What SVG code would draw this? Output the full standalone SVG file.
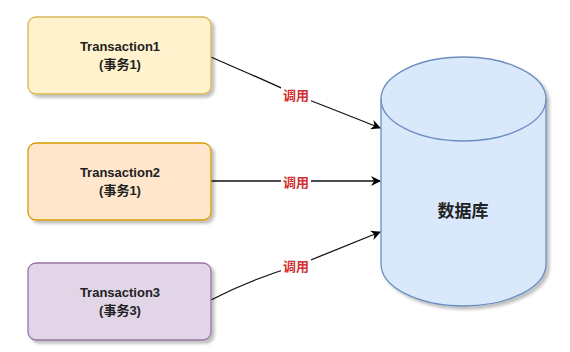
<svg xmlns="http://www.w3.org/2000/svg" width="570" height="352" viewBox="0 0 570 352">
<defs>
<filter id="sh" x="-10%" y="-10%" width="130%" height="130%"><feDropShadow dx="3" dy="3" stdDeviation="1.5" flood-color="#000" flood-opacity="0.25"/></filter>
<marker id="ah" viewBox="0 0 10 10" refX="9" refY="5" markerWidth="10" markerHeight="10" markerUnits="userSpaceOnUse" orient="auto"><path d="M0,0 L10,5 L0,10 L3,5 Z" fill="#000"/></marker>
</defs>
<style>
.t{font-family:"Liberation Sans","Noto Sans CJK SC",sans-serif;font-size:13px;font-weight:bold;fill:#222;text-anchor:middle}
.lb{font-family:"Noto Sans CJK SC",sans-serif;font-size:13px;font-weight:bold;fill:#d03030;text-anchor:middle}
.ed{fill:none;stroke:#111;stroke-width:1.3;marker-end:url(#ah)}
.bg{fill:#fff}
</style>
<rect width="570" height="352" fill="#fff"/>
<g id="edges">
<path class="ed" d="M211,57 C240,70 265,80 296,95 C330,108 355,118 380,128"/>
<path class="ed" d="M211,181 L380,181"/>
<path class="ed" d="M211,300 C240,285 265,275 296,266 C330,252 355,242 380,232"/>
<rect class="bg" x="281" y="86" width="30" height="18"/>
<rect class="bg" x="281" y="173" width="30" height="18"/>
<rect class="bg" x="281" y="257" width="30" height="18"/>
<text class="lb" x="296" y="100">调用</text>
<text class="lb" x="296" y="187">调用</text>
<text class="lb" x="296" y="271">调用</text>
</g>
<g id="t1">
<rect x="28" y="17" width="183" height="77" rx="8" fill="#fff2cc" stroke="#d6b656" stroke-width="1.3" filter="url(#sh)"/>
<text class="t" x="120" y="51">Transaction1</text>
<text class="t" x="120" y="69">(事务1)</text>
</g>
<g id="t2">
<rect x="28" y="143" width="183" height="77" rx="8" fill="#ffe6cc" stroke="#d79b00" stroke-width="1.3" filter="url(#sh)"/>
<text class="t" x="120" y="177">Transaction2</text>
<text class="t" x="120" y="195">(事务1)</text>
</g>
<g id="t3">
<rect x="28" y="263" width="183" height="77" rx="8" fill="#e1d5e7" stroke="#9673a6" stroke-width="1.3" filter="url(#sh)"/>
<text class="t" x="120" y="297">Transaction3</text>
<text class="t" x="120" y="315">(事务3)</text>
</g>
<g id="db">
<path d="M381,99 A82.5,42 0 0 1 546,99 L546,264 A82.5,42 0 0 1 381,264 Z" fill="#dae8fc" stroke="#6c8ebf" stroke-width="1.3" filter="url(#sh)"/>
<path d="M381,99 A82.5,42 0 0 0 546,99" fill="none" stroke="#6c8ebf" stroke-width="1.3"/>
<text class="t" x="463" y="217" style="font-size:17px">数据库</text>
</g>
</svg>
